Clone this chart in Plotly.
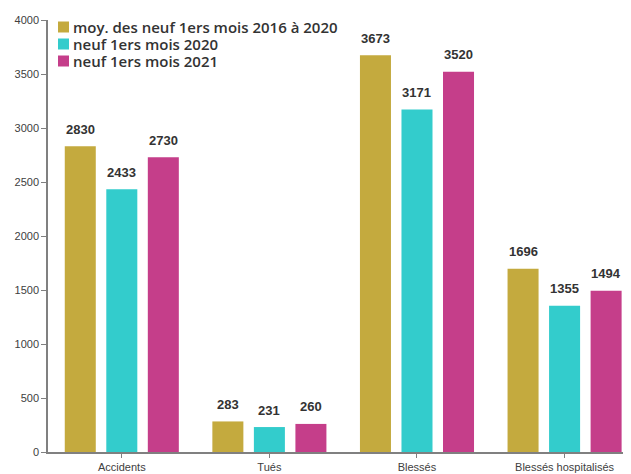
import plotly.graph_objects as go

categories = ["Accidents", "Tués", "Blessés", "Blessés hospitalisés"]
series_names = ["moy. des neuf 1ers mois 2016 à 2020", "neuf 1ers mois 2020", "neuf 1ers mois 2021"]
moy_2016_2020 = [2830, 283, 3673, 1696]
mois_2020 = [2433, 231, 3171, 1355]
mois_2021 = [2730, 260, 3520, 1494]
colors = ["#C4AA3E", "#33CCCC", "#C53E8A"]

series = [moy_2016_2020, mois_2020, mois_2021]
xs = list(range(len(categories)))

# figure geometry (page has 8px body margin)
W, H = 623, 466
ML, MR, MT, MB = 40, 0, 12, 22
PW, PH = W - ML - MR, H - MT - MB


def px(vx):
    return (vx - 8 - ML) / PW


def py(vy):
    return (H - MB - (vy - 8)) / PH


label_font = dict(family="Liberation Sans Narrow, Arial Narrow, Liberation Sans", size=13, color="#333333")

fig = go.Figure()
bargap = 0.156
slot = (1 - bargap) / 3
for k, (name, vals, col) in enumerate(zip(series_names, series, colors)):
    fig.add_trace(go.Bar(x=xs, y=vals, name=name, marker_color=col, marker_line_width=0, showlegend=False))
    off = (k - 1) * slot
    for i, v in enumerate(vals):
        fig.add_annotation(x=i + off, y=v, xref="x", yref="y", text=f"<b>{v}</b>",
                           showarrow=False, yanchor="middle", yshift=17, font=label_font)

# manual legend
row_centers = [27, 44, 61]
for name, col, rc in zip(series_names, colors, row_centers):
    fig.add_shape(type="rect", xref="paper", yref="paper",
                  x0=px(58), x1=px(69), y0=py(rc + 5.5), y1=py(rc - 5.5),
                  fillcolor=col, line_width=0)
    fig.add_annotation(x=px(71), y=py(rc), xref="paper", yref="paper", text=name,
                       showarrow=False, xanchor="left", yanchor="middle",
                       font=dict(family="Open Sans", size=15, color="#333333", weight=600))

tick_font = dict(family="Liberation Sans Narrow, Arial Narrow, Liberation Sans", size=11, color="#404040")
fig.update_layout(
    width=W, height=H,
    margin=dict(l=ML, r=MR, t=MT, b=MB, autoexpand=False),
    plot_bgcolor="white", paper_bgcolor="white",
    barmode="group", bargap=bargap, bargroupgap=0.253,
    showlegend=False,
    xaxis=dict(tickmode="array", tickvals=xs, ticktext=categories, range=[-0.5, 3.45],
               showline=True, linecolor="#808080", linewidth=1.5, ticks="outside", tickson="boundaries",
               ticklen=4, tickcolor="#808080", showgrid=False, tickfont=tick_font),
    yaxis=dict(range=[0, 4000], dtick=500, showline=True, linecolor="#808080", linewidth=1.5,
               ticks="outside", ticklen=5, tickcolor="#808080", showgrid=False, zeroline=False,
               tickfont=tick_font),
)

fig.write_html("out.html")
